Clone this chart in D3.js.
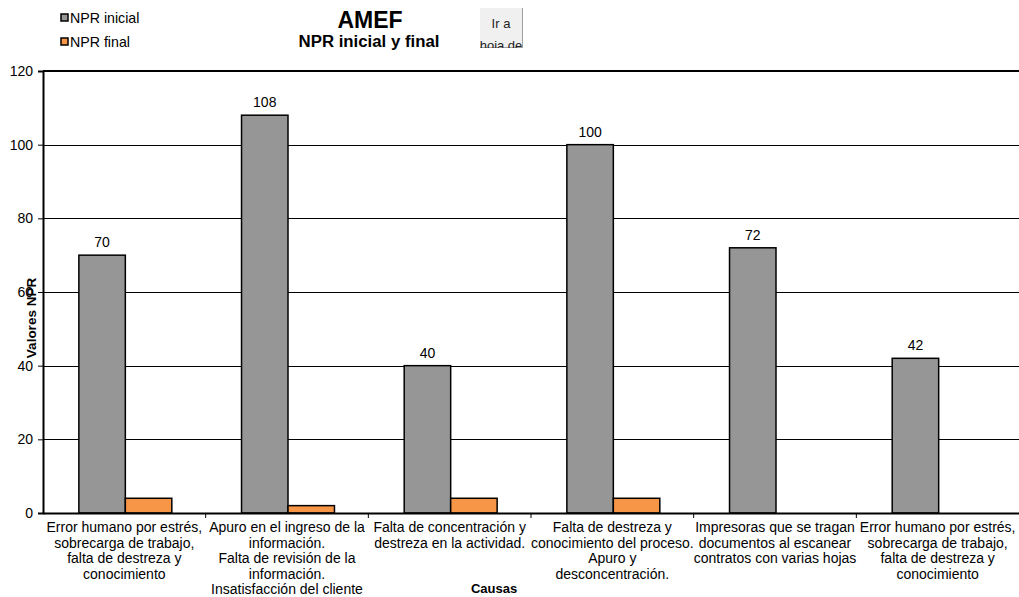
<!DOCTYPE html>
<html>
<head>
<meta charset="utf-8">
<script src="https://cdn.jsdelivr.net/npm/d3@7"></script>
<style>
  html, body { margin: 0; padding: 0; background: #fff; }
  svg { display: block; font-family: "Liberation Sans", Arial, sans-serif; }
</style>
</head>
<body>
<svg id="chart" width="1019" height="597"></svg>
<script>
// Causes analysed in the AMEF and their risk priority numbers
const causas = [
  ["Error humano por estrés,", "sobrecarga de trabajo,", "falta de destreza y", "conocimiento"],
  ["Apuro en el ingreso de la", "información.", "Falta de revisión de la", "información.", "Insatisfacción del cliente"],
  ["Falta de concentración y", "destreza en la actividad."],
  ["Falta de destreza y", "conocimiento del proceso.", "Apuro y", "desconcentración."],
  ["Impresoras que se tragan", "documentos al escanear", "contratos con varias hojas"],
  ["Error humano por estrés,", "sobrecarga de trabajo,", "falta de destreza y", "conocimiento"]
];
const nprInicial = [70, 108, 40, 100, 72, 42];
const nprFinal = [4, 2, 4, 4, 0, 0];
const yTicks = [0, 20, 40, 60, 80, 100, 120];
const seriesNames = ["NPR inicial", "NPR final"];
const seriesColors = ["#969696", "#f79646"];

const svg = d3.select("#chart");
const plot = { left: 43, right: 1019, top: 71, bottom: 513 };

const idx = d3.range(causas.length);
const x = d3.scaleBand().domain(idx).range([plot.left, plot.right]).paddingInner(0).paddingOuter(0);
const bw = x.bandwidth() / 3.5;
const y = d3.scaleLinear().domain([0, 120]).range([plot.bottom, plot.top]);

// Horizontal gridlines
svg.append("g").selectAll("line").data(yTicks.filter(t => t > 0 && t < 120)).join("line")
  .attr("x1", plot.left).attr("x2", plot.right)
  .attr("y1", d => Math.round(y(d)) + 0.5).attr("y2", d => Math.round(y(d)) + 0.5)
  .attr("stroke", "#000").attr("stroke-width", 1);

// Top border of the plot area
svg.append("line").attr("x1", plot.left).attr("x2", plot.right)
  .attr("y1", plot.top).attr("y2", plot.top)
  .attr("stroke", "#000").attr("stroke-width", 2);

// Bars
const series = [nprInicial, nprFinal];
series.forEach((vals, s) => {
  svg.append("g").selectAll("rect").data(vals).join("rect")
    .attr("x", (d, i) => x(i) + 0.75 * bw + s * bw + 1)
    .attr("y", d => y(d))
    .attr("width", bw)
    .attr("height", d => y(0) - y(d))
    .attr("fill", seriesColors[s])
    .attr("stroke", "#000")
    .attr("stroke-width", 1.5)
    .attr("display", d => d > 0 ? null : "none");
});

// Value labels on the initial NPR bars
svg.append("g").selectAll("text").data(nprInicial).join("text")
  .attr("x", (d, i) => x(i) + 1.25 * bw + 1)
  .attr("y", d => y(d) - 8)
  .attr("text-anchor", "middle")
  .attr("font-size", 14)
  .text(d => d);

// Y axis
const yAxis = d3.axisLeft(y).tickValues(yTicks).tickSize(5).tickPadding(5);
const gy = svg.append("g").attr("transform", `translate(${plot.left},0)`).call(yAxis);
gy.select(".domain").attr("stroke", "#000").attr("stroke-width", 2);
gy.selectAll(".tick line").attr("stroke", "#000");
gy.selectAll(".tick text").attr("font-size", 14).attr("fill", "#000")
  .attr("font-family", "Liberation Sans, Arial, sans-serif");

// X axis baseline and category ticks
const xAxis = d3.axisBottom(x).tickFormat("").tickSize(0);
const gx = svg.append("g").attr("transform", `translate(0,${plot.bottom})`).call(xAxis);
gx.select(".domain").attr("stroke", "#000").attr("stroke-width", 2);
svg.append("g").selectAll("line").data(d3.range(1, causas.length)).join("line")
  .attr("x1", i => x(i)).attr("x2", i => x(i))
  .attr("y1", plot.bottom).attr("y2", plot.bottom + 5)
  .attr("stroke", "#000");

// Category labels
const cat = svg.append("g").selectAll("text").data(causas).join("text")
  .attr("x", (d, i) => x(i) + x.bandwidth() / 2)
  .attr("y", plot.bottom + 19)
  .attr("text-anchor", "middle")
  .attr("font-size", 14);
cat.selectAll("tspan").data(d => d).join("tspan")
  .attr("x", function () { return d3.select(this.parentNode).attr("x"); })
  .attr("dy", (d, i) => i === 0 ? 0 : 15.5)
  .text(d => d);

// Axis titles
svg.append("text").attr("x", 494).attr("y", 593)
  .attr("text-anchor", "middle").attr("font-size", 13).attr("font-weight", "bold")
  .text("Causas");
svg.append("text").attr("transform", "translate(36,318) rotate(-90)")
  .attr("text-anchor", "middle").attr("font-size", 13.5).attr("font-weight", "bold")
  .text("Valores NPR");

// Titles
svg.append("text").attr("x", 370).attr("y", 28)
  .attr("text-anchor", "middle").attr("font-size", 23).attr("font-weight", "bold")
  .text("AMEF");
svg.append("text").attr("x", 369).attr("y", 47)
  .attr("text-anchor", "middle").attr("font-size", 16.8).attr("font-weight", "bold")
  .text("NPR inicial y final");

// Legend
const leg = svg.append("g").selectAll("g").data(seriesNames).join("g")
  .attr("transform", (d, i) => `translate(61,${19 + i * 24})`);
leg.append("rect").attr("x", 0).attr("y", -5).attr("width", 7).attr("height", 7)
  .attr("fill", (d, i) => seriesColors[i]).attr("stroke", "#000").attr("stroke-width", 1.5);
leg.append("text").attr("x", 9).attr("y", 4).attr("font-size", 14.2).text(d => d);

// Navigation button
const btn = svg.append("g");
btn.append("clipPath").attr("id", "btnclip")
  .append("rect").attr("x", 480).attr("y", 8).attr("width", 43).attr("height", 40);
btn.append("rect").attr("x", 480).attr("y", 8).attr("width", 43).attr("height", 40)
  .attr("fill", "#f0f0f0");
btn.append("line").attr("x1", 522.5).attr("x2", 522.5).attr("y1", 8).attr("y2", 48)
  .attr("stroke", "#a0a0a0");
btn.append("line").attr("x1", 480).attr("x2", 523).attr("y1", 47.5).attr("y2", 47.5)
  .attr("stroke", "#a0a0a0");
const bt = btn.append("text").attr("clip-path", "url(#btnclip)")
  .attr("text-anchor", "middle").attr("font-size", 13).attr("fill", "#222");
bt.append("tspan").attr("x", 501).attr("y", 28).text("Ir a");
bt.append("tspan").attr("x", 501).attr("y", 50).text("hoja de");
</script>
</body>
</html>
